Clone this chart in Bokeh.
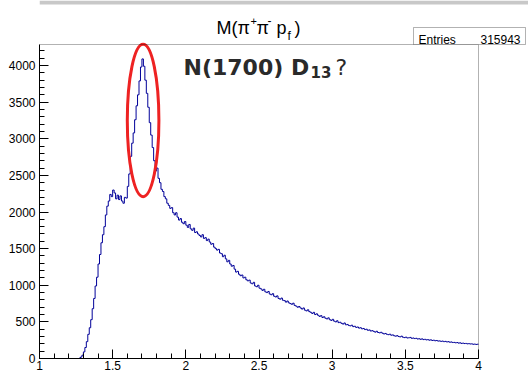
import numpy as np
from bokeh.plotting import figure
from bokeh.models import FixedTicker, Label, BoxAnnotation, Range1d
from bokeh.embed import file_html
from bokeh.resources import INLINE

# ---- data -------------------------------------------------------------
x_min, x_max, n_bins = 1.0, 4.0, 300
counts = (
    [0] * 27 +
    [5, 20, 45, 90, 150, 230, 330, 420, 530, 680, 820, 990, 1110, 1290, 1420,
     1580, 1690, 1800, 1960, 2080, 2150, 2240, 2210] +
    [2300, 2260, 2180, 2230, 2170, 2220, 2150, 2120, 2200, 2190] +
    [2350, 2520, 2760, 2940, 3080, 3260, 3450, 3600, 3790, 3980] +
    [4090, 3990, 3800, 3620, 3430, 3220, 3050, 2880, 2700, 2560] +
    [2600, 2460, 2400, 2310, 2280, 2210, 2180, 2120, 2090, 2050] +
    [2060, 1990, 1960, 1990, 1930, 1890, 1910, 1860, 1840, 1870] +
    [1820, 1790, 1830, 1770, 1750, 1780, 1720, 1730, 1700, 1680] +
    [1660, 1690, 1640, 1650, 1610, 1630, 1590, 1560, 1570, 1520] +
    [1500, 1480, 1490, 1440, 1430, 1390, 1410, 1360, 1320, 1340] +
    [1290, 1260, 1270, 1220, 1180, 1190, 1150, 1130, 1140, 1100] +
    [1110, 1075, 1060, 1070, 1030, 1020, 1040, 990, 980, 1000] +
    [960, 950, 930, 945, 910, 900, 915, 880, 870, 885] +
    [850, 840, 855, 820, 810, 825, 795, 790, 770, 785] +
    [760, 750, 740, 755, 725, 715, 700, 710, 690, 675] +
    [690, 660, 650, 665, 640, 630, 615, 630, 600, 610] +
    [590, 575, 585, 560, 570, 550, 540, 555, 530, 520] +
    [535, 510, 500, 515, 490, 495, 480, 470, 485, 460] +
    [465, 450, 445, 455, 435, 440, 425, 430, 415, 420] +
    [405, 410, 395, 400, 385, 390, 375, 380, 370, 360] +
    [372, 355, 350, 358, 345, 335, 342, 330, 325, 332] +
    [318, 322, 310, 305, 312, 300, 295, 305, 290, 285] +
    [292, 280, 283, 288, 275, 280, 272, 276, 266, 270] +
    [262, 268, 258, 262, 254, 258, 250, 255, 246, 250] +
    [242, 246, 238, 240, 234, 238, 230, 234, 226, 230] +
    [222, 226, 218, 220, 214, 218, 210, 214, 206, 210] +
    [204, 206, 200, 203, 198, 200, 194, 197, 192, 195]
)
entries = 315943
x_ticks = [1.0, 1.5, 2.0, 2.5, 3.0, 3.5, 4.0]
x_tick_labels = ["1", "1.5", "2", "2.5", "3", "3.5", "4"]
y_ticks = [0, 500, 1000, 1500, 2000, 2500, 3000, 3500, 4000]
y_tick_labels = ["0", "500", "1000", "1500", "2000", "2500", "3000", "3500", "4000"]
y_top = 4287

# highlighted peak (red ellipse)
peak_x, peak_y, peak_w, peak_h = 1.708, 3250, 0.216, 2080

# ---- geometry ---------------------------------------------------------
W, H = 528, 373
FL, FR, FT, FB = 39, 478, 44, 358          # histogram frame (page pixels)
x_end = x_min + (W - FL) / (FR - FL) * (x_max - x_min)
y_end = y_top * FB / (FB - FT)


def X(px):
    return x_min + (px - FL) / (FR - FL) * (x_max - x_min)


def Y(py):
    return (FB - py) / (FB - FT) * y_top


p = figure(width=W, height=H, output_backend="svg", toolbar_location=None,
           x_range=Range1d(x_min, x_end), y_range=Range1d(0, y_end),
           min_border_left=FL, min_border_right=0, min_border_top=0,
           min_border_bottom=H - FB)
p.grid.visible = False
p.outline_line_color = None
p.background_fill_color = "white"
p.border_fill_color = "white"

# thin grey strip at the very top
p.add_layout(BoxAnnotation(left=X(FL), right=X(W), top=Y(0), bottom=Y(4),
                           fill_color="#c8c8c8", fill_alpha=1.0, line_color=None))

# histogram
edges = np.linspace(x_min, x_max, n_bins + 1)
p.step(edges, list(counts) + [counts[-1]], mode="after",
       line_color="#000099", line_width=1)

p.ellipse(x=[peak_x], y=[peak_y], width=peak_w, height=peak_h,
          fill_alpha=0, line_color="#ee2222", line_width=3)

# frame box of the histogram
p.add_layout(BoxAnnotation(left=x_min, right=x_max, bottom=0, top=y_top,
                           fill_alpha=0, line_color="black", line_width=1))

# axes
minor_x = [round(x_min + 0.1 * i, 2) for i in range(31)]
minor_y = [100 * i for i in range(43)]
p.xaxis.ticker = FixedTicker(ticks=x_ticks, minor_ticks=minor_x)
p.yaxis.ticker = FixedTicker(ticks=y_ticks, minor_ticks=minor_y)
p.xaxis.major_label_overrides = dict(zip(x_ticks, x_tick_labels))
p.yaxis.major_label_overrides = dict(zip(y_ticks, y_tick_labels))
p.xaxis.bounds = (x_min, x_max)
p.yaxis.bounds = (0, y_top)
for ax in (p.xaxis, p.yaxis):
    ax.major_tick_in = 9
    ax.major_tick_out = 0
    ax.minor_tick_in = 5
    ax.minor_tick_out = 0
    ax.axis_line_color = "black"
    ax.major_tick_line_color = "black"
    ax.minor_tick_line_color = "black"
    ax.major_label_text_font = "Liberation Sans"
    ax.major_label_text_font_size = "12px"
    ax.major_label_text_color = "black"
    ax.axis_label_standoff = 0
p.xaxis.major_label_standoff = 2
p.yaxis.major_label_standoff = 4


def lab(txt, px, py, size, bold=False, font="Liberation Sans", color="black",
        align="left"):
    p.add_layout(Label(x=X(px), y=Y(py), text=txt, text_font=font,
                       text_font_size=size, text_color=color, text_align=align,
                       text_baseline="alphabetic",
                       text_font_style="bold" if bold else "normal"))


# title M(pi+ pi- p_f)
lab("M(π", 216, 27, "18px")
lab("+", 250, 20, "11px")
lab("π", 256, 27, "18px")
lab("-", 267, 20, "12px")
lab("p", 276, 27, "18px")
lab("f", 287, 35, "12px")
lab(")", 294, 27, "18px")

# stats box
p.add_layout(BoxAnnotation(left=X(413), right=X(525), top=Y(27), bottom=Y(44),
                           fill_color="white", fill_alpha=1.0,
                           line_color="black", line_width=1))
lab("Entries", 418, 39, "12px")
lab(str(entries), 520, 39, "12px", align="right")

# annotation text
lab("N(1700) D", 183, 67, "22px", bold=True, font="DejaVu Sans", color="#2a2a2a")
lab("13", 310, 71, "15px", bold=True, font="DejaVu Sans", color="#2a2a2a")
lab("?", 335, 67, "22px", font="DejaVu Sans", color="#2a2a2a")

open("out.html", "w").write(file_html(p, INLINE))
